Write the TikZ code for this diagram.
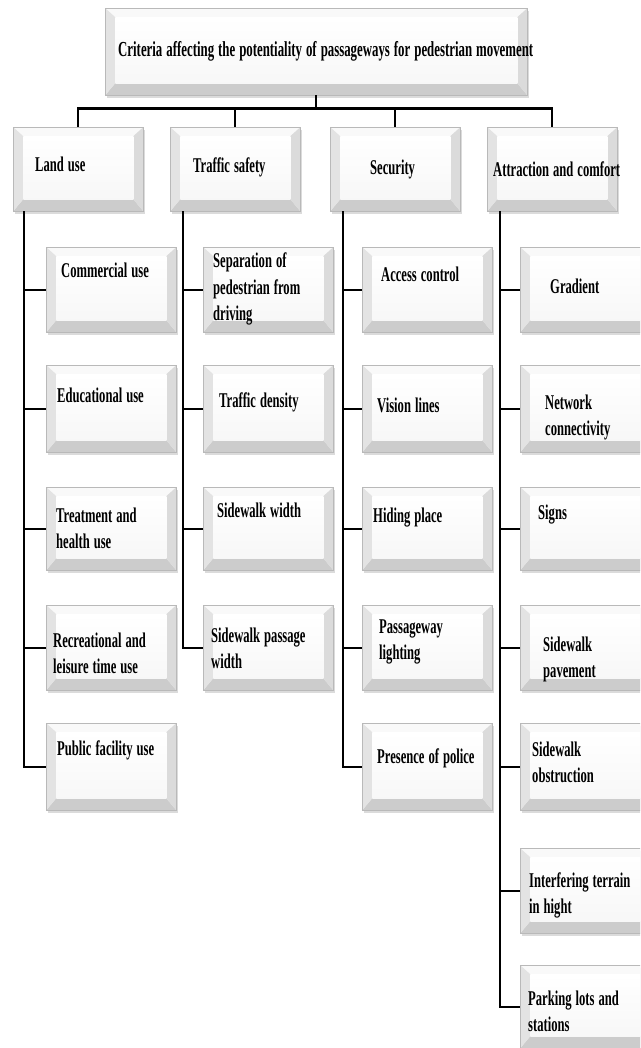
\documentclass[tikz,border=0pt]{standalone}
\usepackage{fontspec}
\newfontfamily\cf[FakeStretch=0.6]{Liberation Serif}
\newcommand\lblfont{\cf\bfseries\fontsize{21}{26.5}\selectfont}
\newcommand\lblsp{\spaceskip=4pt plus 1pt minus 1pt\xspaceskip=4pt plus 1pt minus 1pt\relax}
\newcommand\ttlfont{\cf\bfseries\fontsize{21.4}{27}\selectfont\setlength{\spaceskip}{4pt plus 1pt minus 1pt}}
\usetikzlibrary{shadows,calc}
\tikzset{
  bev/.style={draw=gray!55, line width=0.5pt, inner sep=0pt, anchor=north west,
    drop shadow={shadow xshift=1.5pt, shadow yshift=-2.5pt, opacity=0.35, fill=gray!80},
    path picture={
      \fill[gray!10] (path picture bounding box.north west) rectangle (path picture bounding box.south east);
      \fill[gray!5] (path picture bounding box.north west) -- (path picture bounding box.north east)
         -- ($(path picture bounding box.north east)+(-10,9)$) -- ($(path picture bounding box.north west)+(10,9)$) -- cycle;
      \fill[gray!40] (path picture bounding box.south west) -- (path picture bounding box.south east)
         -- ($(path picture bounding box.south east)+(-10,-12)$) -- ($(path picture bounding box.south west)+(10,-12)$) -- cycle;
      \fill[gray!22] (path picture bounding box.north west) -- ($(path picture bounding box.north west)+(10,9)$)
         -- ($(path picture bounding box.south west)+(10,-12)$) -- (path picture bounding box.south west) -- cycle;
      \fill[gray!28] (path picture bounding box.north east) -- ($(path picture bounding box.north east)+(-10,9)$)
         -- ($(path picture bounding box.south east)+(-10,-12)$) -- (path picture bounding box.south east) -- cycle;
      \shade[top color=white, bottom color=gray!6] ($(path picture bounding box.north west)+(10,9)$) rectangle ($(path picture bounding box.south east)+(-10,-12)$);
    }},
  lbl/.style={anchor=base west, inner sep=0pt, text width=140pt, align=left, font=\lblfont},
  ttl/.style={anchor=base west, inner sep=0pt, font=\ttlfont},
  conn/.style={draw=black, line width=2.4pt},
}
\newcommand\bx[5]{\node[bev, minimum width=#4pt, minimum height=#5pt] (#1) at (#2,#3) {};}
\newcommand\lb[4]{\node[lbl] (#1) at (#2,#3) {\lblsp #4};}
\begin{document}
\begin{tikzpicture}[x=1pt,y=-1pt]
\useasboundingbox (0,0) rectangle (640,1048);
\clip (0,0) rectangle (640,1048);
% boxes
\bx{top}{105}{8}{422}{87}
\bx{lu}{13}{127}{130}{84}
\bx{ts}{170}{127}{130}{84}
\bx{se}{330}{127}{130}{84}
\bx{ac}{487}{127}{130}{84}
% land use column
\bx{lu1}{46}{247}{130}{85}
\bx{lu2}{46}{365}{130}{87}
\bx{lu3}{46}{487}{130}{83}
\bx{lu4}{46}{605}{130}{85}
\bx{lu5}{46}{723}{130}{87}
% traffic safety column
\bx{ts1}{203}{247}{130}{85}
\bx{ts2}{203}{365}{130}{87}
\bx{ts3}{203}{487}{130}{83}
\bx{ts4}{203}{605}{130}{85}
% security column
\bx{se1}{362}{247}{130}{85}
\bx{se2}{362}{365}{130}{87}
\bx{se3}{362}{487}{130}{83}
\bx{se4}{362}{605}{130}{85}
\bx{se5}{362}{723}{130}{87}
% attraction column
\bx{ac1}{520}{247}{132}{85}
\bx{ac2}{520}{365}{132}{87}
\bx{ac3}{520}{487}{132}{83}
\bx{ac4}{520}{605}{132}{85}
\bx{ac5}{520}{723}{132}{87}
\bx{ac6}{520}{848}{132}{85}
\bx{ac7}{520}{965}{132}{83}
% connectors
\draw[conn] (top.south) -- ++(0,13) coordinate (busmid);
\draw[conn] (lu.north) |- (busmid) -| (ac.north);
\draw[conn] (ts.north) -- (ts.north |- busmid);
\draw[conn] (se.north) -- (se.north |- busmid);
\foreach \c in {lu1,lu2,lu3,lu4,lu5}{\draw[conn] ([xshift=11pt]lu.south west) |- (\c.west);}
\foreach \c in {ts1,ts2,ts3,ts4}{\draw[conn] ([xshift=13pt]ts.south west) |- (\c.west);}
\foreach \c in {se1,se2,se3,se4,se5}{\draw[conn] ([xshift=13pt]se.south west) |- (\c.west);}
\foreach \c in {ac1,ac2,ac3,ac4,ac5,ac6,ac7}{\draw[conn] ([xshift=13pt]ac.south west) |- (\c.west);}
% labels
\node[ttl] (ttop) at (118,57) {Criteria affecting the potentiality of passageways for pedestrian movement};
\lb{tlu}{35}{172}{Land use}
\lb{tts}{193}{173}{Traffic safety}
\lb{tse}{370}{175}{Security}
\lb{tac}{493}{177}{Attraction and comfort}
\lb{tlu1}{61}{278}{Commercial use}
\lb{tlu2}{57}{402}{Educational use}
\lb{tlu3}{56}{522}{Treatment and\\health use}
\lb{tlu4}{53}{647}{Recreational and\\leisure time use}
\lb{tlu5}{57}{755}{Public facility use}
\lb{tts1}{213}{268}{Separation of\\pedestrian from\\driving}
\lb{tts2}{219}{407}{Traffic density}
\lb{tts3}{217}{517}{Sidewalk width}
\lb{tts4}{211}{642}{Sidewalk passage\\width}
\lb{tse1}{381}{281}{Access control}
\lb{tse2}{377}{412}{Vision lines}
\lb{tse3}{373}{522}{Hiding place}
\lb{tse4}{379}{633}{Passageway\\lighting}
\lb{tse5}{377}{763}{Presence of police}
\lb{tac1}{550}{294}{Gradient}
\lb{tac2}{545}{409}{Network\\connectivity}
\lb{tac3}{538}{519}{Signs}
\lb{tac4}{543}{651}{Sidewalk\\pavement}
\lb{tac5}{532}{756}{Sidewalk\\obstruction}
\lb{tac6}{529}{887}{Interfering terrain\\in hight}
\lb{tac7}{528}{1005}{Parking lots and\\stations}
\end{tikzpicture}
\end{document}
